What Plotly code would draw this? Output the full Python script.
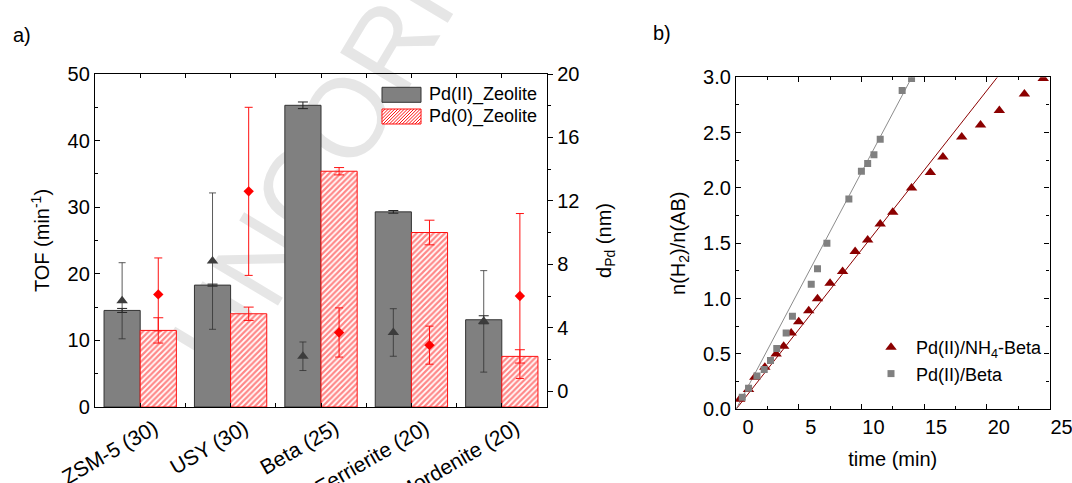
import numpy as np
import plotly.graph_objects as go

# ---- a) TOF and Pd particle size for each zeolite ----
zeolites = ["ZSM-5 (30)", "USY (30)", "Beta (25)", "Ferrierite (20)", "Mordenite (20)"]
tof_pd2 = [14.5, 18.3, 45.3, 29.3, 13.1]
tof_pd2_err = [0.3, 0.15, 0.5, 0.2, 0.6]
tof_pd0 = [11.5, 14.0, 35.4, 26.2, 7.6]
tof_pd0_err = [1.9, 1.0, 0.55, 1.85, 1.0]
d_pd2 = [5.7, 8.2, 2.2, 3.7, 4.4]
d_pd2_err = [2.4, 4.3, 0.9, 1.5, 3.2]
d_pd0 = [6.1, 12.6, 3.7, 2.9, 6.0]
d_pd0_err = [2.3, 5.3, 1.55, 1.2, 5.2]

# ---- b) hydrogen evolution curves ----
time_nh4_beta = [0.3, 1.0, 1.5, 2.3, 3.2, 3.8, 4.4, 5.0, 5.8, 6.5, 7.5, 8.5, 9.5, 10.5,
                 11.5, 12.5, 14.0, 15.5, 16.5, 18.0, 19.5, 21.0, 23.0, 24.5]
h2_nh4_beta = [0.09, 0.18, 0.29, 0.38, 0.50, 0.57, 0.69, 0.79, 0.89, 1.00, 1.14, 1.245, 1.425, 1.53,
               1.675, 1.78, 2.00, 2.14, 2.28, 2.46, 2.57, 2.70, 2.85, 2.99]
time_beta = [0.5, 1.0, 1.67, 2.25, 2.75, 3.25, 4.0, 4.5, 6.0, 6.5, 7.25, 9.0, 10.0, 10.5,
             11.0, 11.5, 13.25, 14.0]
h2_beta = [0.11, 0.19, 0.30, 0.36, 0.44, 0.55, 0.69, 0.84, 1.13, 1.27, 1.50, 1.90, 2.15, 2.22,
           2.30, 2.44, 2.88, 2.99]
# initial rates (n(H2)/n(AB) per min) of the linear fits
rate_nh4_beta = 0.144
rate_beta = 0.214

FONT = "Liberation Sans, Arial, sans-serif"
W, H = 1072, 483
BARGAP = 0.2
half_offset = (1 - BARGAP) / 4  # centre of each bar inside a group
RED = "#ff1010"

idx = np.arange(len(zeolites))

fig = go.Figure()

fig.add_trace(go.Bar(
    x=idx, y=tof_pd2, name="Pd(II)_Zeolite", xaxis="x", yaxis="y",
    marker=dict(color="#808080", line=dict(color="#333333", width=1)),
    error_y=dict(type="data", array=tof_pd2_err, color="#222222", thickness=1, width=5),
    showlegend=False,
))
fig.add_trace(go.Bar(
    x=idx, y=tof_pd0, name="Pd(0)_Zeolite", xaxis="x", yaxis="y",
    marker=dict(color="white", line=dict(color=RED, width=1),
                pattern=dict(shape="/", fgcolor=RED, bgcolor="white", size=4, solidity=0.55)),
    error_y=dict(type="data", array=tof_pd0_err, color=RED, thickness=1, width=5),
    showlegend=False,
))
fig.add_trace(go.Scatter(
    x=idx - half_offset, y=d_pd2, xaxis="x", yaxis="y2", mode="markers",
    marker=dict(symbol="triangle-up", size=10, color="#3c3c3c"),
    error_y=dict(type="data", array=d_pd2_err, color="rgba(50,50,50,0.8)", thickness=1, width=3.5),
    showlegend=False,
))
fig.add_trace(go.Scatter(
    x=idx + half_offset, y=d_pd0, xaxis="x", yaxis="y2", mode="markers",
    marker=dict(symbol="diamond", size=8, color="#ff0000"),
    error_y=dict(type="data", array=d_pd0_err, color=RED, thickness=1, width=4),
    showlegend=False,
))

# b) fitted initial-rate lines
for rate, col in [(rate_nh4_beta, "#8b0000"), (rate_beta, "#8c8c8c")]:
    t_end = 3.0 / rate
    fig.add_trace(go.Scatter(
        x=[0, t_end], y=[0, rate * t_end], xaxis="x2", yaxis="y3", mode="lines",
        line=dict(color=col, width=1), showlegend=False, hoverinfo="skip",
    ))
fig.add_trace(go.Scatter(
    x=time_nh4_beta, y=h2_nh4_beta, xaxis="x2", yaxis="y3", mode="markers",
    name="Pd(II)/NH<sub>4</sub>-Beta", legend="legend2", legendgroup="a",
    marker=dict(symbol="triangle-up", size=10, color="#8b0000"),
))
fig.add_trace(go.Scatter(
    x=time_beta, y=h2_beta, xaxis="x2", yaxis="y3", mode="markers",
    name="Pd(II)/Beta", legend="legend2", legendgroup="b",
    marker=dict(symbol="square", size=7, color="#808080"),
))

axis_common = dict(showline=True, linecolor="#000000", linewidth=1.3, showgrid=False,
                   zeroline=False, tickcolor="#000000", tickwidth=1.2, automargin=False,
                   tickfont=dict(size=20, color="#000000", family=FONT))

fig.update_layout(
    width=W, height=H,
    margin=dict(l=0, r=0, t=0, b=0, pad=0),
    paper_bgcolor="white", plot_bgcolor="rgba(0,0,0,0)",
    font=dict(family=FONT, color="#000000"),
    barmode="group", bargap=BARGAP, bargroupgap=0,
    xaxis=dict(
        axis_common, domain=[95 / W, 547 / W], anchor="y", range=[-0.5, 4.5],
        tickmode="array", tickvals=idx, ticktext=zeolites, tickangle=-30,
        ticks="inside", ticklen=4, mirror="ticks", ticklabelshift=14,
        ticklabeloverflow="allow",
        tickfont=dict(size=21, color="#000000", family=FONT),
        minor=dict(tickvals=idx[:-1] + 0.5, ticks="inside", ticklen=4, tickcolor="#000000"),
    ),
    yaxis=dict(
        axis_common, domain=[(H - 407) / H, (H - 74) / H], anchor="x", range=[0, 50],
        dtick=10, ticks="inside", ticklen=5,
        minor=dict(dtick=5, ticks="inside", ticklen=3, tickcolor="#000000"),
        title=dict(text="TOF (min<sup>-1</sup>)", font=dict(size=20), standoff=12),
    ),
    yaxis2=dict(
        axis_common, overlaying="y", side="right", anchor="x", range=[-1, 20],
        dtick=4, ticks="outside", ticklen=5,
        minor=dict(dtick=2, ticks="outside", ticklen=3, tickcolor="#000000"),
        title=dict(text="d<sub>Pd</sub> (nm)", font=dict(size=20), standoff=18),
    ),
    xaxis2=dict(
        axis_common, domain=[736 / W, 1049.5 / W], anchor="y3", range=[0, 25],
        dtick=5, ticks="inside", ticklen=5, mirror="ticks", ticklabelshift=12,
        ticklabeloverflow="allow",
        minor=dict(dtick=2.5, ticks="inside", ticklen=3, tickcolor="#000000"),
        title=dict(text="time (min)", font=dict(size=20), standoff=14),
    ),
    yaxis3=dict(
        axis_common, domain=[(H - 409.3) / H, (H - 77.3) / H], anchor="x2", range=[0, 3],
        dtick=0.5, tickformat=".1f", ticks="inside", ticklen=5, mirror="ticks",
        minor=dict(dtick=0.25, ticks="inside", ticklen=3, tickcolor="#000000"),
        title=dict(text="n(H<sub>2</sub>)/n(AB)", font=dict(size=20), standoff=12),
    ),
    legend2=dict(
        x=866 / W, y=(H - 329) / H, xanchor="left", yanchor="top",
        bgcolor="rgba(0,0,0,0)", borderwidth=0, font=dict(size=18, family=FONT),
        traceorder="grouped", tracegroupgap=0, itemwidth=40,
    ),
)

# panel labels
for txt, px, py in [("a)", 22, 35), ("b)", 662, 33)]:
    fig.add_annotation(text=txt, x=px / W, y=1 - py / H, xref="paper", yref="paper",
                       xanchor="center", yanchor="middle", showarrow=False,
                       font=dict(size=20, family=FONT, color="#000000"))

# legend for the bar series of panel a)
leg_x0, leg_x1 = 382, 421
rows = [(87.3, 102.3, "Pd(II)_Zeolite"), (109, 124, "Pd(0)_Zeolite")]
fig.add_shape(type="rect", xref="paper", yref="paper",
              x0=leg_x0 / W, x1=leg_x1 / W, y0=1 - rows[0][1] / H, y1=1 - rows[0][0] / H,
              fillcolor="#808080", line=dict(color="#333333", width=1))
r0, r1 = rows[1][0], rows[1][1]
fig.add_shape(type="rect", xref="paper", yref="paper",
              x0=leg_x0 / W, x1=leg_x1 / W, y0=1 - r1 / H, y1=1 - r0 / H,
              fillcolor="white", line=dict(color=RED, width=1))
# diagonal hatch inside the swatch
hh = r1 - r0
for start in np.arange(leg_x0 - hh, leg_x1, 3.2):
    xa, ya = start, r1
    xb, yb = start + hh, r0
    if xa < leg_x0:
        ya = r1 - (leg_x0 - xa)
        xa = leg_x0
    if xb > leg_x1:
        yb = r0 + (xb - leg_x1)
        xb = leg_x1
    if xb - xa < 0.5:
        continue
    fig.add_shape(type="line", xref="paper", yref="paper",
                  x0=xa / W, x1=xb / W, y0=1 - ya / H, y1=1 - yb / H,
                  line=dict(color=RED, width=1))
for (ya, yb, txt) in rows:
    fig.add_annotation(text=txt, x=427 / W, y=1 - (ya + yb) / 2 / H, xref="paper", yref="paper",
                       xanchor="left", yanchor="middle", showarrow=False,
                       font=dict(size=18, family=FONT, color="#000000"))

# faint proof watermark behind the plots
cx, cy = 524, -200
fig.add_shape(type="rect", xref="paper", yref="paper", layer="below",
              x0=(cx - 5) / W, x1=(cx + 5) / W, y0=1 - (cy + 5) / H, y1=1 - (cy - 5) / H,
              line=dict(width=0), fillcolor="rgba(0,0,0,0)",
              label=dict(text="UNCORRECTED PROOF", textangle=-59, textposition="middle center",
                         font=dict(size=112, family=FONT, color="#e6e6e6")))

fig.write_html("out.html")
